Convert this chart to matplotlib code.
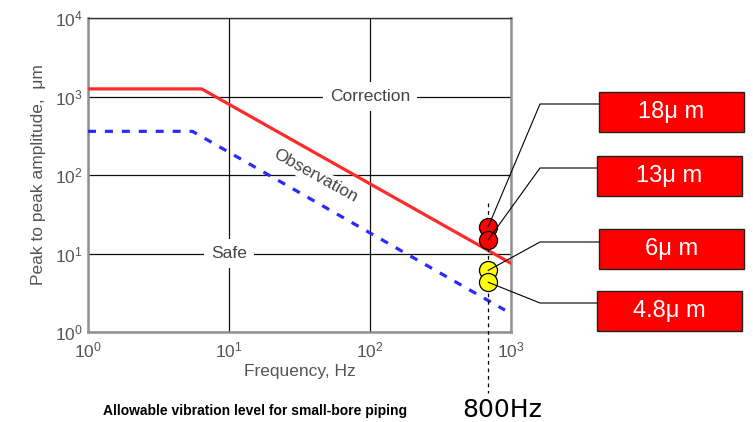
import matplotlib
matplotlib.use('Agg')
import matplotlib.pyplot as plt
from matplotlib.lines import Line2D
from matplotlib.patches import Rectangle

plt.rcParams['font.family'] = ['Liberation Sans', 'DejaVu Sans']

# limit lines (Hz, um)
freq_corr = [1, 6.4, 1000]
amp_corr = [1250, 1250, 7.5]
freq_obs = [1, 5.5, 906]
amp_obs = [360, 360, 1.9]

# measured points
meas_freq = 690
meas_amp = [22, 15, 6.1, 4.3]
meas_color = ['#ff0000', '#ff0000', '#ffff00', '#ffff00']
meas_labels = ['18μ m', '13μ m', '6μ m', '4.8μ m']

W, H = 753, 422
GRAY = '#555555'


def px(x, y):
    return x / W, 1 - y / H


fig = plt.figure(figsize=(W / 100, H / 100), dpi=100)
ax = fig.add_axes([88 / W, 1 - 332 / H, (511 - 88) / W, (332 - 18) / H])
ax.set_xscale('log')
ax.set_yscale('log')
ax.set_xlim(1, 1000)
ax.set_ylim(1, 1e4)
ax.minorticks_off()
ax.grid(True, which='major', color='#111111', lw=0.9)
ax.set_axisbelow(True)
ax.tick_params(length=0, labelsize=12.5, labelcolor=GRAY)
ax.tick_params(axis='x', pad=6)
ax.tick_params(axis='y', pad=4)
for s in ax.spines.values():
    s.set_color('#909090')
    s.set_linewidth(1.8)
ax.spines['top'].set_color('#333333')
ax.spines['top'].set_linewidth(1.0)
# lift the bottom y label a little so it clears the first x label
ax.get_yticklabels()[0].set_va('bottom')

ax.plot(freq_corr, amp_corr, color='#ff2a2a', lw=2.3, zorder=3)
ax.plot(freq_obs, amp_obs, color='#2a2aff', lw=2.3, ls=(0, (2.5, 2.8)), zorder=3)

ax.set_xlabel('Frequency, Hz', fontsize=12.5, color=GRAY, labelpad=3)
ax.set_ylabel('Peak to peak amplitude,  μm', fontsize=12.5, color=GRAY, labelpad=6)

box = dict(boxstyle='square,pad=0.4', facecolor='white', edgecolor='none')
ax.text(100, 1000, 'Correction', fontsize=12.5, color='#444444', ha='center', va='center',
        bbox=box, zorder=2)
ax.text(41, 97, 'Observation', fontsize=12.5, color='#444444', ha='center', va='center',
        rotation=-29, bbox=dict(boxstyle='square,pad=0.1', facecolor='white', edgecolor='none'),
        zorder=2)
ax.text(10, 10, 'Safe', fontsize=12.5, color='#444444', ha='center', va='center', bbox=box, zorder=2)

# 800 Hz marker line
ax.plot([meas_freq, meas_freq], [44, 0.166], color='black', lw=0.9, ls=(0, (3, 3)),
        clip_on=False, zorder=4)

for a, c in zip(meas_amp, meas_color):
    ax.plot(meas_freq, a, 'o', ms=13, mfc=c, mec='black', mew=0.9, zorder=5, clip_on=False)

# labels with leader lines
box_left = [599, 597, 599, 597]
box_top = [92, 156, 229, 291]
elbow_y = [104, 168, 242, 303]
inv = fig.transFigure.inverted()
for a, lab, bl, bt, ey in zip(meas_amp, meas_labels, box_left, box_top, elbow_y):
    sx, sy = inv.transform(ax.transData.transform((meas_freq, a)))
    ex, eyf = px(540, ey)
    bx, _ = px(bl, ey)
    fig.add_artist(Line2D([sx, ex, bx], [sy, eyf, eyf], color='black', lw=0.8, zorder=6))
    x0, y0 = px(bl, bt + 40)
    fig.add_artist(Rectangle((x0, y0), 145 / W, 40 / H, transform=fig.transFigure,
                             facecolor='#ff0000', edgecolor='#222222', lw=1.0))
    cx, cy = px(bl + 72.5, bt + 20)
    fig.text(cx, cy, lab, fontsize=17, color='white', ha='center', va='center')

fig.text(*px(502, 410), '800Hz', fontsize=18, family='DejaVu Sans', ha='center', va='center')
fig.text(*px(255, 411), 'Allowable vibration level for small-bore piping', fontsize=10,
         fontweight='bold', ha='center', va='center')

fig.savefig('out.png', dpi=100, facecolor='white')
